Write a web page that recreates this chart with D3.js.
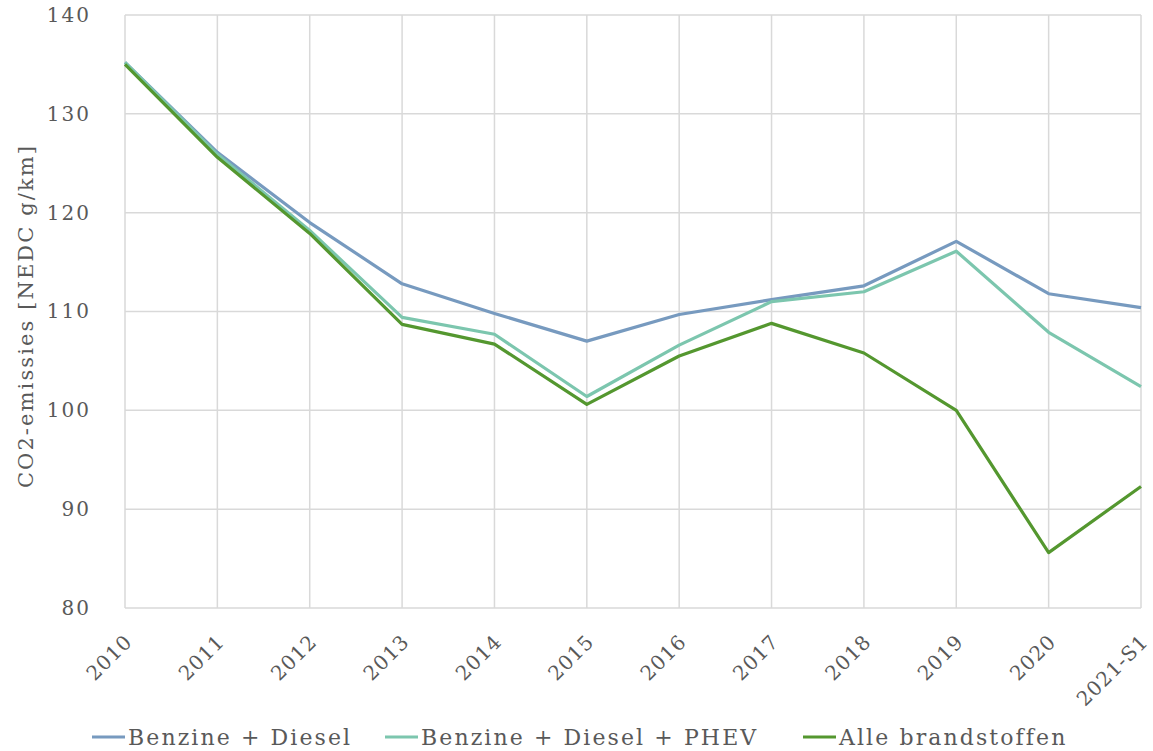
<!DOCTYPE html>
<html>
<head>
<meta charset="utf-8">
<script src="https://cdn.jsdelivr.net/npm/d3@7"></script>
<style>
  body { margin: 0; background: #fff; }
  text { font-family: "DejaVu Serif", "Liberation Serif", serif; fill: #595959; }
</style>
</head>
<body>
<svg id="chart" width="1153" height="751"></svg>
<script>
var years = ["2010", "2011", "2012", "2013", "2014", "2015", "2016", "2017", "2018", "2019", "2020", "2021-S1"];
var benzineDiesel = [135.2, 126.1, 119.0, 112.8, 109.8, 107.0, 109.7, 111.2, 112.6, 117.1, 111.8, 110.4];
var benzineDieselPhev = [135.2, 125.9, 118.2, 109.4, 107.7, 101.4, 106.6, 111.0, 112.0, 116.1, 107.9, 102.4];
var alleBrandstoffen = [135.0, 125.6, 117.9, 108.7, 106.7, 100.6, 105.5, 108.8, 105.8, 100.0, 85.6, 92.3];
var yTicks = [80, 90, 100, 110, 120, 130, 140];

var seriesNames = ["Benzine + Diesel", "Benzine + Diesel + PHEV", "Alle brandstoffen"];
var seriesColors = ["#779abf", "#7cc6ae", "#54972f"];
var seriesValues = [benzineDiesel, benzineDieselPhev, alleBrandstoffen];

var svg = d3.select("#chart");
var plotLeft = 125, plotRight = 1141, plotTop = 15, plotBottom = 608;

var xScale = d3.scalePoint().domain(years).range([plotLeft, plotRight]);
var yScale = d3.scaleLinear().domain([80, 140]).range([plotBottom, plotTop]);

// gridlines
svg.append("g")
    .selectAll("line")
    .data(yTicks)
    .enter().append("line")
    .attr("x1", plotLeft).attr("x2", plotRight)
    .attr("y1", function(d) { return yScale(d); })
    .attr("y2", function(d) { return yScale(d); })
    .attr("stroke", "#d9d9d9").attr("stroke-width", 1.5);

svg.append("g")
    .selectAll("line")
    .data(years)
    .enter().append("line")
    .attr("x1", function(d) { return xScale(d); })
    .attr("x2", function(d) { return xScale(d); })
    .attr("y1", plotTop).attr("y2", plotBottom)
    .attr("stroke", "#d9d9d9").attr("stroke-width", 1.5);

// y tick labels
var yAxis = d3.axisLeft(yScale).tickValues(yTicks).tickSize(0).tickPadding(34);
var yg = svg.append("g").attr("transform", `translate(${plotLeft},0)`).call(yAxis);
yg.select(".domain").remove();
yg.selectAll("text")
    .attr("font-size", 20).attr("letter-spacing", 2)
    .style("font-family", "'DejaVu Serif', serif").attr("fill", "#595959");

// x tick labels
var xAxis = d3.axisBottom(xScale).tickSize(0);
var xg = svg.append("g").attr("transform", `translate(0,${plotBottom})`).call(xAxis);
xg.select(".domain").remove();
xg.selectAll("text")
    .attr("font-size", 20).attr("letter-spacing", 1)
    .style("font-family", "'DejaVu Serif', serif").attr("fill", "#595959")
    .attr("text-anchor", "end")
    .attr("dy", "0.35em")
    .attr("y", 0)
    .attr("transform", "translate(3,30) rotate(-45)");

// y title
svg.append("text")
    .attr("transform", "translate(33,316) rotate(-90)")
    .attr("text-anchor", "middle")
    .attr("font-size", 21)
    .attr("letter-spacing", 2.1)
    .text("CO2-emissies [NEDC g/km]");

// lines
var line = d3.line()
    .x(function(d, i) { return xScale(years[i]); })
    .y(function(d) { return yScale(d); });

seriesValues.forEach(function(vals, k) {
    svg.append("path")
        .datum(vals)
        .attr("d", line)
        .attr("fill", "none")
        .attr("stroke", seriesColors[k])
        .attr("stroke-width", 3.2)
        .attr("stroke-linejoin", "round");
});

// legend
var legendX = [92, 385, 803];
var legend = svg.append("g");
seriesNames.forEach(function(name, k) {
    legend.append("line")
        .attr("x1", legendX[k]).attr("x2", legendX[k] + 33)
        .attr("y1", 737).attr("y2", 737)
        .attr("stroke", seriesColors[k]).attr("stroke-width", 3.2);
    legend.append("text")
        .attr("x", legendX[k] + 36).attr("y", 745)
        .attr("font-size", 22).attr("letter-spacing", 2.1)
        .text(name);
});
</script>
</body>
</html>
